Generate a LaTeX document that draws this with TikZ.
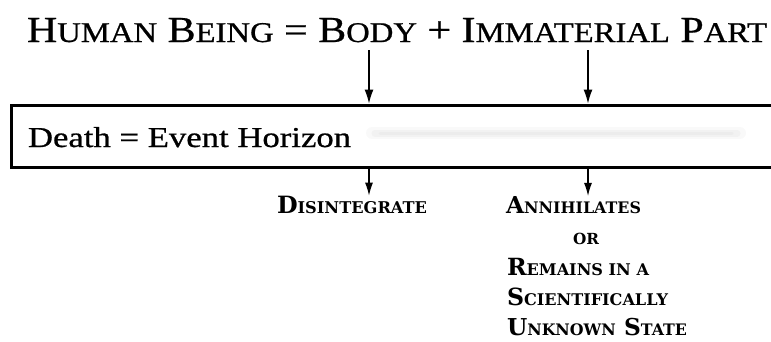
\documentclass[tikz,border=0pt]{standalone}
\usepackage{fontspec}
\setmainfont{Liberation Serif}
\newfontfamily\heavyserif[FakeBold=0.7]{Liberation Serif}
\newfontfamily\labelfont{DejaVu Serif}
\usetikzlibrary{arrows.meta}
\newcommand\tbig[1]{{\fontsize{10}{12}\selectfont #1}}
\newcommand\tsml[1]{{\fontsize{7.8}{9}\selectfont #1}}
\newcommand\lbig[1]{{\fontsize{10}{12}\selectfont #1}}
\newcommand\lsml[1]{{\fontsize{6.8}{9}\selectfont #1}}
\tikzset{
  txt/.style={anchor=base west, inner sep=0pt, outer sep=0pt},
  conn/.style={line width=1.2pt, -{Latex[length=14pt,width=9pt]}},
  conns/.style={line width=1.2pt, -{Latex[length=13pt,width=8pt]}},
  framebox/.style={draw, line width=3pt, anchor=north west, inner sep=0pt,
    minimum width=766pt, minimum height=62pt}
}
\begin{document}
\begin{tikzpicture}[x=1pt,y=-1pt]
\useasboundingbox (0,0) rectangle (771,341);
% title
\node[txt] (title) at (27,42) {\resizebox{740pt}{24pt}{\heavyserif\tbig{H}\tsml{UMAN} \tbig{B}\tsml{EING} = \tbig{B}\tsml{ODY} + \tbig{I}\tsml{MMATERIAL} \tbig{P}\tsml{ART}}};
% box
\node[framebox] (box) at (9.5,103.5) {};
% faint bar
\draw[line width=12pt, line cap=round, gray!5] (372,133) -- (740,133);
\draw[line width=7pt, line cap=round, gray!10] (375,133) -- (737,133);
\draw[line width=3pt, line cap=round, gray!15] (380,133) -- (732,133);
\node[txt] (death) at (28,147) {\resizebox{323pt}{20pt}{\heavyserif Death = Event Horizon}};
% coordinates
\coordinate (bodyc) at (369,50);
\coordinate (partc) at (588,50);
% bottom labels
\node[txt] (dis) at (277,213) {\resizebox{150pt}{!}{\labelfont\bfseries \lbig{D}\lsml{ISINTEGRATE}}};
\node[txt] (ann) at (506,213) {\resizebox{135pt}{!}{\labelfont\bfseries \lbig{A}\lsml{NNIHILATES}}};
\node[anchor=base, inner sep=0pt] (or) at (586,244) {\resizebox{26pt}{!}{\labelfont\bfseries \lsml{OR}}};
\node[txt] (rem) at (507,275) {\resizebox{142pt}{!}{\labelfont\bfseries \lbig{R}\lsml{EMAINS IN A}}};
\node[txt] (sci) at (507,305) {\resizebox{161pt}{!}{\labelfont\bfseries \lbig{S}\lsml{CIENTIFICALLY}}};
\node[txt] (unk) at (507,335) {\resizebox{180pt}{!}{\labelfont\bfseries \lbig{U}\lsml{NKNOWN} \lbig{S}\lsml{TATE}}};
% connectors
\draw[conn] (bodyc) -- (bodyc |- box.north);
\draw[conn] (partc) -- (partc |- box.north);
\draw[conns] (bodyc |- box.south) -- (bodyc |- dis.north);
\draw[conns] (partc |- box.south) -- (partc |- ann.north);
\end{tikzpicture}
\end{document}
